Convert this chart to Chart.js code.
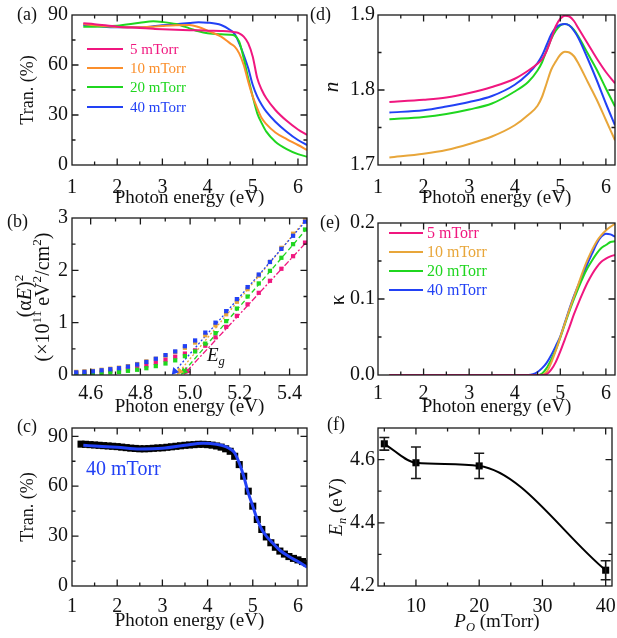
<!DOCTYPE html>
<html>
<head>
<meta charset="utf-8">
<script src="https://cdn.jsdelivr.net/npm/chart.js@4.4.1/dist/chart.umd.min.js"></script>
<style>
  body { margin: 0; background: #fff; }
  canvas { position: absolute; }
</style>
</head>
<body>
<canvas id="ca" width="312" height="210" style="left:0;top:0"></canvas>
<canvas id="cb" width="312" height="218" style="left:0;top:205px"></canvas>
<canvas id="cc" width="312" height="228" style="left:0;top:410px"></canvas>
<canvas id="cd" width="309" height="210" style="left:308px;top:0"></canvas>
<canvas id="ce" width="309" height="218" style="left:308px;top:205px"></canvas>
<canvas id="cf" width="309" height="228" style="left:308px;top:410px"></canvas>
<script>
// ---- data ----
const seriesLabels = ['5 mTorr', '10 mTorr', '20 mTorr', '40 mTorr'];

// (a) transmittance (%)
const energyT = [1.25, 1.5, 2.0, 2.5, 2.8, 3.0, 3.3, 3.6, 3.8, 4.0, 4.3, 4.5, 4.6, 4.7, 4.8, 4.9, 5.0, 5.1, 5.2, 5.3, 5.5, 5.75, 6.0, 6.2];
const trans5  = [85, 84.5, 83, 82.2, 81.7, 81.4, 81.1, 80.9, 80.8, 80.6, 80.4, 80.1, 79.7, 79, 77, 73, 65, 52, 45, 40, 33, 26.5, 21.3, 18];
const trans10 = [84.6, 83.8, 82.8, 82.6, 83.0, 83.4, 83.9, 84.0, 82.8, 80.6, 77.0, 73.0, 71, 67, 60, 50, 41, 34, 28, 24.5, 19.5, 15.5, 12, 9];
const trans20 = [83, 83, 83.5, 85.3, 86.2, 85.8, 84.6, 82, 80.2, 79, 78.4, 78.2, 77.6, 74, 64, 52, 41, 31, 25, 20, 14, 9.5, 6.5, 5];
const trans40 = [84, 83.5, 82.6, 82.6, 83.2, 83.8, 84.5, 85.2, 85.6, 85.4, 84, 81, 78.6, 73, 66, 58, 48, 41, 36, 32, 26, 20, 15, 12];

// (b) Tauc plot, (alpha E)^2 in 1e11 eV^2/cm^2
const energyTauc = [4.542, 4.575, 4.609, 4.644, 4.679, 4.714, 4.750, 4.787, 4.824, 4.862, 4.901, 4.940, 4.979, 5.020, 5.061, 5.102, 5.145, 5.188, 5.231, 5.276, 5.321, 5.367, 5.414, 5.462];
const tauc5  = [0.04, 0.04, 0.05, 0.06, 0.08, 0.09, 0.11, 0.14, 0.18, 0.23, 0.29, 0.35, 0.41, 0.47, 0.56, 0.72, 0.92, 1.13, 1.35, 1.57, 1.80, 2.03, 2.27, 2.53];
const tauc10 = [0.06, 0.07, 0.08, 0.10, 0.12, 0.14, 0.17, 0.21, 0.26, 0.31, 0.37, 0.44, 0.52, 0.62, 0.76, 0.95, 1.16, 1.40, 1.64, 1.90, 2.16, 2.43, 2.70, 2.98];
const tauc20 = [0.02, 0.02, 0.03, 0.04, 0.05, 0.06, 0.08, 0.10, 0.13, 0.17, 0.22, 0.28, 0.36, 0.45, 0.60, 0.80, 1.03, 1.27, 1.50, 1.75, 1.99, 2.24, 2.50, 2.78];
const tauc40 = [0.05, 0.06, 0.07, 0.09, 0.11, 0.13, 0.16, 0.20, 0.25, 0.31, 0.38, 0.45, 0.55, 0.66, 0.81, 1.00, 1.22, 1.45, 1.68, 1.92, 2.16, 2.41, 2.66, 2.93];
// linear fits: [arrow end, top end]
const fitE5  = [4.986, 5.47], fitV5  = [0.07, 2.55];
const fitE10 = [4.958, 5.47], fitV10 = [0.07, 3.00];
const fitE20 = [4.975, 5.47], fitV20 = [0.07, 2.80];
const fitE40 = [4.938, 5.47], fitV40 = [0.07, 2.97];

// (c) 40 mTorr measured vs fitted transmittance
const energyC = [1.2, 1.3, 1.4, 1.5, 1.6, 1.7, 1.8, 1.9, 2.0, 2.1, 2.2, 2.3, 2.4, 2.5, 2.6, 2.7, 2.8, 2.9, 3.0, 3.1, 3.2, 3.3, 3.4, 3.5, 3.6, 3.7, 3.8, 3.9, 4.0, 4.1, 4.2, 4.3, 4.4, 4.5, 4.6, 4.7, 4.8, 4.9, 5.0, 5.1, 5.2, 5.3, 5.4, 5.5, 5.6, 5.7, 5.8, 5.9, 6.0, 6.1, 6.2];
const measC = [85.3, 85.2, 85.0, 84.8, 84.6, 84.4, 84.2, 84.0, 83.8, 83.5, 83.2, 82.9, 82.7, 82.5, 82.5, 82.6, 82.8, 83.0, 83.1, 83.4, 83.7, 84.0, 84.3, 84.6, 84.8, 85.0, 85.2, 85.2, 85.0, 84.7, 84.2, 83.5, 82.5, 81.0, 78.0, 73.0, 66.0, 57.0, 48.0, 40.0, 34.0, 29.5, 26.0, 23.3, 21.0, 19.2, 17.7, 16.6, 15.7, 14.7, 13.7];
const energyFit = [1.25, 1.5, 2.0, 2.5, 3.0, 3.5, 3.9, 4.2, 4.4, 4.5, 4.6, 4.7, 4.8, 4.9, 5.0, 5.1, 5.2, 5.3, 5.4, 5.6, 5.8, 6.0, 6.2];
const fitC = [84.6, 84.2, 83.4, 82.4, 82.8, 84.6, 85.8, 85.2, 83.8, 82.4, 80, 74, 66, 56, 48, 40, 34, 30, 27, 21.5, 17.7, 14.7, 11.3];

// (d) refractive index n
const energyN = [1.25, 2.0, 2.5, 3.0, 3.5, 4.0, 4.3, 4.5, 4.6, 4.7, 4.8, 4.9, 5.0, 5.1, 5.2, 5.3, 5.4, 5.6, 5.8, 6.0, 6.2];
const n5  = [1.784, 1.787, 1.790, 1.796, 1.804, 1.815, 1.826, 1.835, 1.841, 1.852, 1.868, 1.885, 1.895, 1.899, 1.898, 1.892, 1.882, 1.862, 1.842, 1.824, 1.809];
const n10 = [1.710, 1.715, 1.720, 1.728, 1.738, 1.753, 1.767, 1.779, 1.791, 1.809, 1.827, 1.838, 1.847, 1.851, 1.850, 1.845, 1.835, 1.811, 1.787, 1.760, 1.733];
const n20 = [1.761, 1.764, 1.768, 1.774, 1.782, 1.798, 1.811, 1.826, 1.837, 1.853, 1.868, 1.879, 1.886, 1.888, 1.886, 1.880, 1.871, 1.849, 1.827, 1.802, 1.778];
const n40 = [1.770, 1.773, 1.778, 1.784, 1.792, 1.807, 1.822, 1.836, 1.846, 1.860, 1.874, 1.883, 1.887, 1.888, 1.886, 1.879, 1.869, 1.842, 1.813, 1.782, 1.753];

// (e) extinction coefficient kappa
const energyK = [1.25, 4.3, 4.4, 4.5, 4.6, 4.7, 4.8, 4.9, 5.0, 5.1, 5.2, 5.3, 5.4, 5.5, 5.6, 5.7, 5.8, 5.9, 6.0, 6.1, 6.2];
const k5  = [0, 0, 0, 0, 0, 0.001, 0.007, 0.017, 0.031, 0.047, 0.063, 0.080, 0.095, 0.109, 0.122, 0.133, 0.142, 0.149, 0.153, 0.156, 0.158];
const k10 = [0, 0, 0, 0, 0, 0.004, 0.016, 0.032, 0.050, 0.068, 0.086, 0.103, 0.120, 0.137, 0.152, 0.165, 0.176, 0.184, 0.190, 0.195, 0.199];
const k20 = [0, 0, 0, 0, 0.002, 0.009, 0.020, 0.033, 0.049, 0.067, 0.084, 0.100, 0.115, 0.129, 0.141, 0.151, 0.160, 0.167, 0.171, 0.175, 0.176];
const k40 = [0, 0, 0.001, 0.004, 0.009, 0.016, 0.026, 0.038, 0.051, 0.069, 0.087, 0.104, 0.119, 0.133, 0.147, 0.160, 0.173, 0.182, 0.186, 0.185, 0.182];

// (f) E_n vs oxygen pressure
const pressure = [5, 10, 20, 40];
const energyN0 = [4.65, 4.59, 4.58, 4.25];
const energyErr = [0.02, 0.05, 0.04, 0.03];

// ---- styling ----
const FONT = "'Liberation Serif', 'Times New Roman', serif";
const PINK = '#f0177f', ORANGE = '#fb8f2c', GOLD = '#e8a63a', GREEN = '#1fd61f', BLUE = '#2241f5';

Chart.defaults.font.family = FONT;
Chart.defaults.color = '#111';
Chart.defaults.animation = false;
Chart.defaults.plugins.legend.display = false;
Chart.defaults.plugins.tooltip.enabled = false;
Chart.defaults.elements.point.radius = 0;
Chart.defaults.elements.line.borderWidth = 2;

function pts(xs, ys) {
  return xs.map((x, i) => ({x: x, y: ys[i]}));
}
const oneDec = v => v.toFixed(1);

function xAxis(min, max, step, height, fmt, title, titlePad, pad) {
  const ticks = {stepSize: step, includeBounds: false, padding: pad, font: {size: 20}, maxRotation: 0, autoSkip: false};
  if (fmt) ticks.callback = fmt;
  return {
    type: 'linear', position: 'bottom', min: min, max: max, ticks: ticks,
    grid: {display: false, drawTicks: false}, border: {display: false},
    title: title ? {display: true, text: title, font: {size: 19}, padding: {top: 0, bottom: titlePad}} : {display: false},
    afterFit(s) { s.height = height; s.paddingLeft = 0; s.paddingRight = 0; }
  };
}
function yAxis(min, max, step, width, fmt, title, pad) {
  const ticks = {stepSize: step, includeBounds: false, padding: pad, font: {size: 20}, autoSkip: false};
  if (fmt) ticks.callback = fmt;
  return {
    type: 'linear', position: 'left', min: min, max: max, ticks: ticks,
    grid: {display: false, drawTicks: false}, border: {display: false},
    title: title ? {display: true, text: title, font: {size: 18}, padding: {top: 17, bottom: 0}} : {display: false},
    afterFit(s) { s.width = width; s.paddingTop = 0; s.paddingBottom = 0; }
  };
}

// text with italics / sub- and superscripts, page coordinates
function richText(ctx, parts, x, y, size, opt) {
  opt = opt || {};
  ctx.save();
  ctx.translate(x, y);
  if (opt.rot) ctx.rotate(-Math.PI / 2);
  ctx.fillStyle = opt.color || '#111';
  ctx.textBaseline = 'middle';
  ctx.textAlign = 'left';
  const fontOf = p => (p[1] && p[1].indexOf('i') >= 0 ? 'italic ' : '') +
    ((p[1] && (p[1].indexOf('sub') >= 0 || p[1].indexOf('sup') >= 0)) ? size * 0.66 : size) + 'px ' + FONT;
  let total = 0;
  parts.forEach(p => { ctx.font = fontOf(p); total += ctx.measureText(p[0]).width; });
  let cx = opt.left ? 0 : -total / 2;
  parts.forEach(p => {
    ctx.font = fontOf(p);
    let dy = 0;
    if (p[1] && p[1].indexOf('sub') >= 0) dy = size * 0.3;
    if (p[1] && p[1].indexOf('sup') >= 0) dy = -size * 0.33;
    ctx.fillText(p[0], cx, dy);
    cx += ctx.measureText(p[0]).width;
  });
  ctx.restore();
}

// frame, inward ticks on all sides, error bars, labels, legends
function deco(spec) {
  return {
    id: 'deco',
    afterDatasetsDraw(chart) {
      const ctx = chart.ctx, a = chart.chartArea;
      ctx.save();
      ctx.strokeStyle = '#1a1a1a';
      if (spec.errors) {
        const meta = chart.getDatasetMeta(0);
        const ys = chart.scales.y;
        ctx.lineWidth = 1.6;
        chart.data.datasets[0].data.forEach((d, i) => {
          const px = meta.data[i].x;
          const t = ys.getPixelForValue(d.y + spec.errors[i]);
          const b = ys.getPixelForValue(d.y - spec.errors[i]);
          ctx.beginPath();
          ctx.moveTo(px, t); ctx.lineTo(px, b);
          ctx.moveTo(px - 5, t); ctx.lineTo(px + 5, t);
          ctx.moveTo(px - 5, b); ctx.lineTo(px + 5, b);
          ctx.stroke();
        });
      }
      ctx.lineWidth = 1.3;
      ctx.strokeRect(a.left, a.top, a.right - a.left, a.bottom - a.top);
      ['x', 'y'].forEach(id => {
        const s = chart.scales[id];
        const vals = s.ticks.map(t => t.value);
        const step = vals[1] - vals[0];
        const list = vals.map(v => [v, 6.5]);
        for (let v = vals[0] - step / 2; v > s.min; v -= step) list.push([v, 3.5]);
        vals.forEach(v => { if (v + step / 2 < s.max) list.push([v + step / 2, 3.5]); });
        ctx.beginPath();
        list.forEach(([v, len]) => {
          const p = s.getPixelForValue(v);
          if (id === 'x') {
            if (p < a.left + 1 || p > a.right - 1) return;
            ctx.moveTo(p, a.bottom); ctx.lineTo(p, a.bottom - len);
            ctx.moveTo(p, a.top); ctx.lineTo(p, a.top + len);
          } else {
            if (p > a.bottom - 1 || p < a.top + 1) return;
            ctx.moveTo(a.left, p); ctx.lineTo(a.left + len, p);
            ctx.moveTo(a.right, p); ctx.lineTo(a.right - len, p);
          }
        });
        ctx.stroke();
      });
      ctx.restore();
    },
    afterDraw(chart) {
      const ctx = chart.ctx;
      (spec.texts || []).forEach(t => {
        richText(ctx, t.parts, t.x - spec.ox, t.y - spec.oy, t.size || 19, t);
      });
      if (spec.legend) {
        const L = spec.legend;
        ctx.save();
        chart.data.datasets.slice(0, 4).forEach((ds, i) => {
          const y = L.ys[i] - spec.oy;
          ctx.strokeStyle = ds.borderColor;
          ctx.lineWidth = 2;
          ctx.beginPath();
          ctx.moveTo(L.x1 - spec.ox, y); ctx.lineTo(L.x2 - spec.ox, y);
          ctx.stroke();
          ctx.fillStyle = ds.borderColor;
          ctx.font = L.size + 'px ' + FONT;
          ctx.textBaseline = 'middle';
          ctx.fillText(ds.label, L.tx - spec.ox, y + 1);
        });
        ctx.restore();
      }
    }
  };
}

function curve(label, xs, ys, color, width) {
  return {label: label, data: pts(xs, ys), borderColor: color, borderWidth: width || 2,
    pointRadius: 0, fill: false, cubicInterpolationMode: 'monotone'};
}
function squares(label, xs, ys, color, r) {
  return {label: label, data: pts(xs, ys), showLine: false, pointStyle: 'rect', pointRadius: r,
    pointBackgroundColor: color, pointBorderWidth: 0, borderColor: color, backgroundColor: color};
}
function fitLine(xs, ys, color, dash) {
  return {label: 'fit', data: pts(xs, ys), borderColor: color, borderWidth: 1.3, borderDash: dash,
    pointStyle: 'triangle', pointRadius: [4.5, 0], pointRotation: [221, 0],
    pointBackgroundColor: color, pointBorderWidth: 0, tension: 0};
}
function baseOptions(padTop, padRight, x, y) {
  return {responsive: false, layout: {padding: {left: 0, top: padTop, right: padRight, bottom: 0}},
    scales: {x: x, y: y}};
}

// (a)
new Chart(document.getElementById('ca'), {
  type: 'line',
  data: {datasets: [
    curve(seriesLabels[0], energyT, trans5, PINK),
    curve(seriesLabels[1], energyT, trans10, ORANGE),
    curve(seriesLabels[2], energyT, trans20, GREEN),
    curve(seriesLabels[3], energyT, trans40, BLUE)
  ]},
  options: baseOptions(15, 5,
    xAxis(1, 6.2, 1, 45, null, 'Photon energy (eV)', 0.5, 11),
    yAxis(0, 90, 30, 72, null, 'Tran. (%)', 4)),
  plugins: [deco({ox: 0, oy: 0,
    texts: [{parts: [['(a)']], x: 17, y: 15, left: true, size: 18}],
    legend: {x1: 87, x2: 123, tx: 130, ys: [49, 68, 87, 107], size: 15}})]
});

// (b)
new Chart(document.getElementById('cb'), {
  type: 'line',
  data: {datasets: [
    squares(seriesLabels[3], energyTauc, tauc40, BLUE, 3),
    squares(seriesLabels[1], energyTauc, tauc10, GOLD, 3),
    squares(seriesLabels[2], energyTauc, tauc20, GREEN, 3),
    squares(seriesLabels[0], energyTauc, tauc5, PINK, 3),
    fitLine(fitE40, fitV40, BLUE, [2, 2]),
    fitLine(fitE10, fitV10, GOLD, [2, 2]),
    fitLine(fitE20, fitV20, GREEN, [5, 3]),
    fitLine(fitE5, fitV5, PINK, [6, 2, 2, 2])
  ]},
  options: baseOptions(13, 5,
    xAxis(4.525, 5.47, 0.2, 48, oneDec, 'Photon energy (eV)', 4.6, 7),
    yAxis(0, 3, 1, 72, null, null, 4)),
  plugins: [deco({ox: 0, oy: 205,
    texts: [
      {parts: [['(b)']], x: 7, y: 222, left: true, size: 18},
      {parts: [['(α'], ['E', 'i'], [')'], ['2', 'sup']], x: 26, y: 296, rot: true, size: 20},
      {parts: [['(×10'], ['11', 'sup'], [' eV'], ['2', 'sup'], ['/cm'], ['2', 'sup'], [')']], x: 44, y: 297, rot: true, size: 20},
      {parts: [['E', 'i'], ['g', 'isub']], x: 207, y: 356, left: true, size: 19}
    ]})]
});

// (c)
new Chart(document.getElementById('cc'), {
  type: 'line',
  data: {datasets: [
    curve('fit', energyFit, fitC, BLUE, 3),
    squares('measured', energyC, measC, '#000', 5)
  ]},
  options: baseOptions(18, 4,
    xAxis(1, 6.2, 1, 52, null, 'Photon energy (eV)', 5.6, 9),
    yAxis(0, 95, 30, 72, null, 'Tran. (%)', 4)),
  plugins: [deco({ox: 0, oy: 410,
    texts: [
      {parts: [['(c)']], x: 17, y: 427, left: true, size: 18},
      {parts: [['40 mTorr']], x: 86, y: 470, left: true, size: 20, color: BLUE}
    ]})]
});

// (d)
new Chart(document.getElementById('cd'), {
  type: 'line',
  data: {datasets: [
    curve(seriesLabels[0], energyN, n5, PINK),
    curve(seriesLabels[1], energyN, n10, GOLD),
    curve(seriesLabels[3], energyN, n40, BLUE),
    curve(seriesLabels[2], energyN, n20, GREEN)
  ]},
  options: baseOptions(15, 2,
    xAxis(1, 6.2, 1, 45, null, 'Photon energy (eV)', 0.5, 11),
    yAxis(1.7, 1.9, 0.1, 70, oneDec, null, 3)),
  plugins: [deco({ox: 308, oy: 0,
    texts: [
      {parts: [['(d)']], x: 310, y: 15, left: true, size: 18},
      {parts: [['n', 'i']], x: 332, y: 87, rot: true, size: 21}
    ]})]
});

// (e)
new Chart(document.getElementById('ce'), {
  type: 'line',
  data: {datasets: [
    curve(seriesLabels[0], energyK, k5, PINK),
    curve(seriesLabels[1], energyK, k10, GOLD),
    curve(seriesLabels[2], energyK, k20, GREEN),
    curve(seriesLabels[3], energyK, k40, BLUE)
  ]},
  options: baseOptions(18, 2,
    xAxis(1, 6.2, 1, 48, null, 'Photon energy (eV)', 4.6, 7),
    yAxis(0, 0.2, 0.1, 70, oneDec, null, 3)),
  plugins: [deco({ox: 308, oy: 205,
    texts: [
      {parts: [['(e)']], x: 320, y: 223, left: true, size: 18},
      {parts: [['κ']], x: 338, y: 300, rot: true, size: 21}
    ],
    legend: {x1: 389, x2: 423, tx: 427, ys: [233, 252, 271, 290], size: 16}})]
});

// (f)
new Chart(document.getElementById('cf'), {
  type: 'line',
  data: {datasets: [
    {label: 'E_n', data: pts(pressure, energyN0), borderColor: '#000', borderWidth: 2,
      cubicInterpolationMode: 'monotone',
      pointStyle: 'rect', pointRadius: 5, pointBackgroundColor: '#000', pointBorderWidth: 0}
  ]},
  options: baseOptions(18, 2,
    xAxis(4, 41, 10, 52, null, null, 0, 9),
    yAxis(4.2, 4.7, 0.2, 70, oneDec, null, 3)),
  plugins: [deco({ox: 308, oy: 410, errors: energyErr,
    texts: [
      {parts: [['(f)']], x: 327, y: 425, left: true, size: 18},
      {parts: [['E', 'i'], ['n', 'isub'], [' (eV)']], x: 337, y: 507, rot: true, size: 19},
      {parts: [['P', 'i'], ['O', 'isub'], [' (mTorr)']], x: 497, y: 622, size: 19}
    ]})]
});
</script>
</body>
</html>
